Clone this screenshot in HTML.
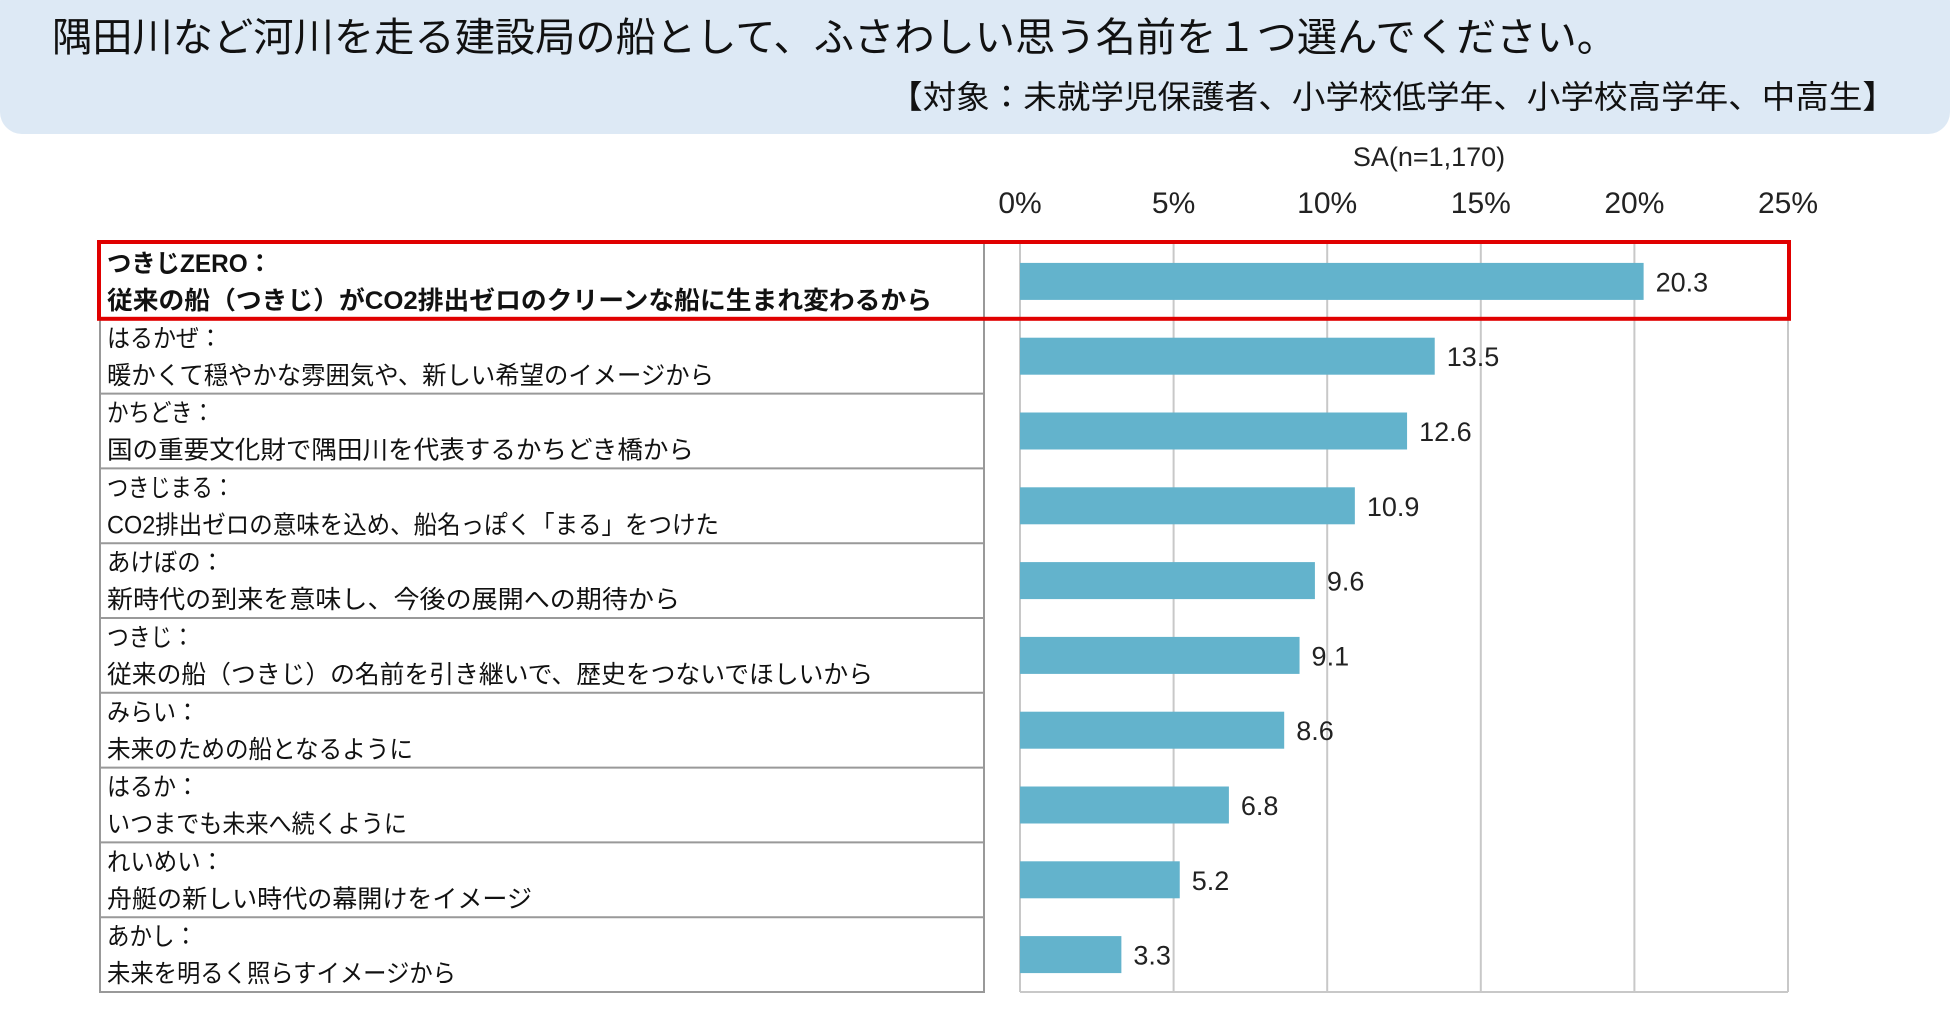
<!DOCTYPE html>
<html><head><meta charset="utf-8"><style>
html,body{margin:0;padding:0;background:#fff;}
svg{display:block;font-family:"Liberation Sans","Noto Sans CJK JP",sans-serif;}
</style></head><body>
<svg id="chart" width="1950" height="1024" viewBox="0 0 1950 1024">
<rect x="0" y="-20" width="1950" height="154" rx="22" fill="#dde9f5"/>
<text x="52" y="51" font-size="40" fill="#111" textLength="1565" lengthAdjust="spacingAndGlyphs">隅田川など河川を走る建設局の船として、ふさわしい思う名前を１つ選んでください。</text>
<text x="889" y="108" font-size="32" fill="#111" textLength="1007" lengthAdjust="spacingAndGlyphs">【対象：未就学児保護者、小学校低学年、小学校高学年、中高生】</text>
<text x="1429" y="166" font-size="27" fill="#222" text-anchor="middle">SA(n=1,170)</text>
<g id="grid"></g><g id="table"></g><g id="bars"></g>
</svg>
<script>
const names=["つきじZERO：","はるかぜ：","かちどき：","つきじまる：","あけぼの：","つきじ：","みらい：","はるか：","れいめい：","あかし："];
const reasons=["従来の船（つきじ）がCO2排出ゼロのクリーンな船に生まれ変わるから","暖かくて穏やかな雰囲気や、新しい希望のイメージから","国の重要文化財で隅田川を代表するかちどき橋から","CO2排出ゼロの意味を込め、船名っぽく「まる」をつけた","新時代の到来を意味し、今後の展開への期待から","従来の船（つきじ）の名前を引き継いで、歴史をつないでほしいから","未来のための船となるように","いつまでも未来へ続くように","舟艇の新しい時代の幕開けをイメージ","未来を明るく照らすイメージから"];
const values=[20.3,13.5,12.6,10.9,9.6,9.1,8.6,6.8,5.2,3.3];
const tickValues=[0,5,10,15,20,25];
const tickLabels=["0%","5%","10%","15%","20%","25%"];
const nameW=[165,115,107,127,117,87,92,92,117,90];
const reasonW=[825,607,587,612,573,766,306,300,425,349];
const NS="http://www.w3.org/2000/svg";
const x0=1020,x1=1788,plotTop=244,rowH=74.8;
const xs=v=>x0+(x1-x0)*v/25;
const yr=i=>plotTop+i*rowH;
function mk(tag,attrs,parent){const e=document.createElementNS(NS,tag);for(const k in attrs)e.setAttribute(k,attrs[k]);parent.appendChild(e);return e;}
const g=document.getElementById('grid'),tb=document.getElementById('table'),bg=document.getElementById('bars');
const plotBottom=yr(values.length);
tickValues.forEach((t,i)=>{
 const l=mk('line',{x1:xs(t),x2:xs(t),y1:plotTop,y2:plotBottom,stroke:'#c8c8c8','stroke-width':2},g);
 
 
 const tx=mk('text',{x:xs(t),y:213,'font-size':30,fill:'#222','text-anchor':'middle'},g);
 tx.textContent=tickLabels[i];
 
 
});
const bl=mk('line',{x1:x0,x2:x1,y1:plotBottom,y2:plotBottom,stroke:'#c8c8c8','stroke-width':2},g);


const vl=mk('line',{x1:100,x2:100,y1:plotTop,y2:plotBottom+1,stroke:'#999','stroke-width':2},tb);


const vr=mk('line',{x1:984,x2:984,y1:plotTop,y2:plotBottom+1,stroke:'#999','stroke-width':2},tb);


values.forEach((v,i)=>{
 const y=yr(i);
 const hl=mk('line',{x1:100,x2:984,y1:y+rowH,y2:y+rowH,stroke:'#999','stroke-width':2},tb);
 
 
 const bold=i===0?700:400;
 const t1=mk('text',{x:107,y:y+28,'font-size':25,'font-weight':bold,fill:'#111',textLength:nameW[i],lengthAdjust:'spacingAndGlyphs'},tb);
 t1.textContent=names[i];
 
 
 const t2=mk('text',{x:107,y:y+65,'font-size':25,'font-weight':bold,fill:'#111',textLength:reasonW[i],lengthAdjust:'spacingAndGlyphs'},tb);
 t2.textContent=reasons[i];
 
 
 const b=mk('rect',{x:x0,y:y+rowH/2-18.5,width:xs(v)-x0,height:37,fill:'#63b3cc'},bg);
 
 
 const vt=mk('text',{x:xs(v)+12,y:y+rowH/2+10,'font-size':27,fill:'#222'},bg);
 vt.textContent=v.toFixed(1);
 
 
});
const hb=mk('rect',{x:99,y:yr(0)-2,width:1690,height:rowH+2,fill:'none',stroke:'#e00000','stroke-width':4},bg);


</script>
</body></html>
